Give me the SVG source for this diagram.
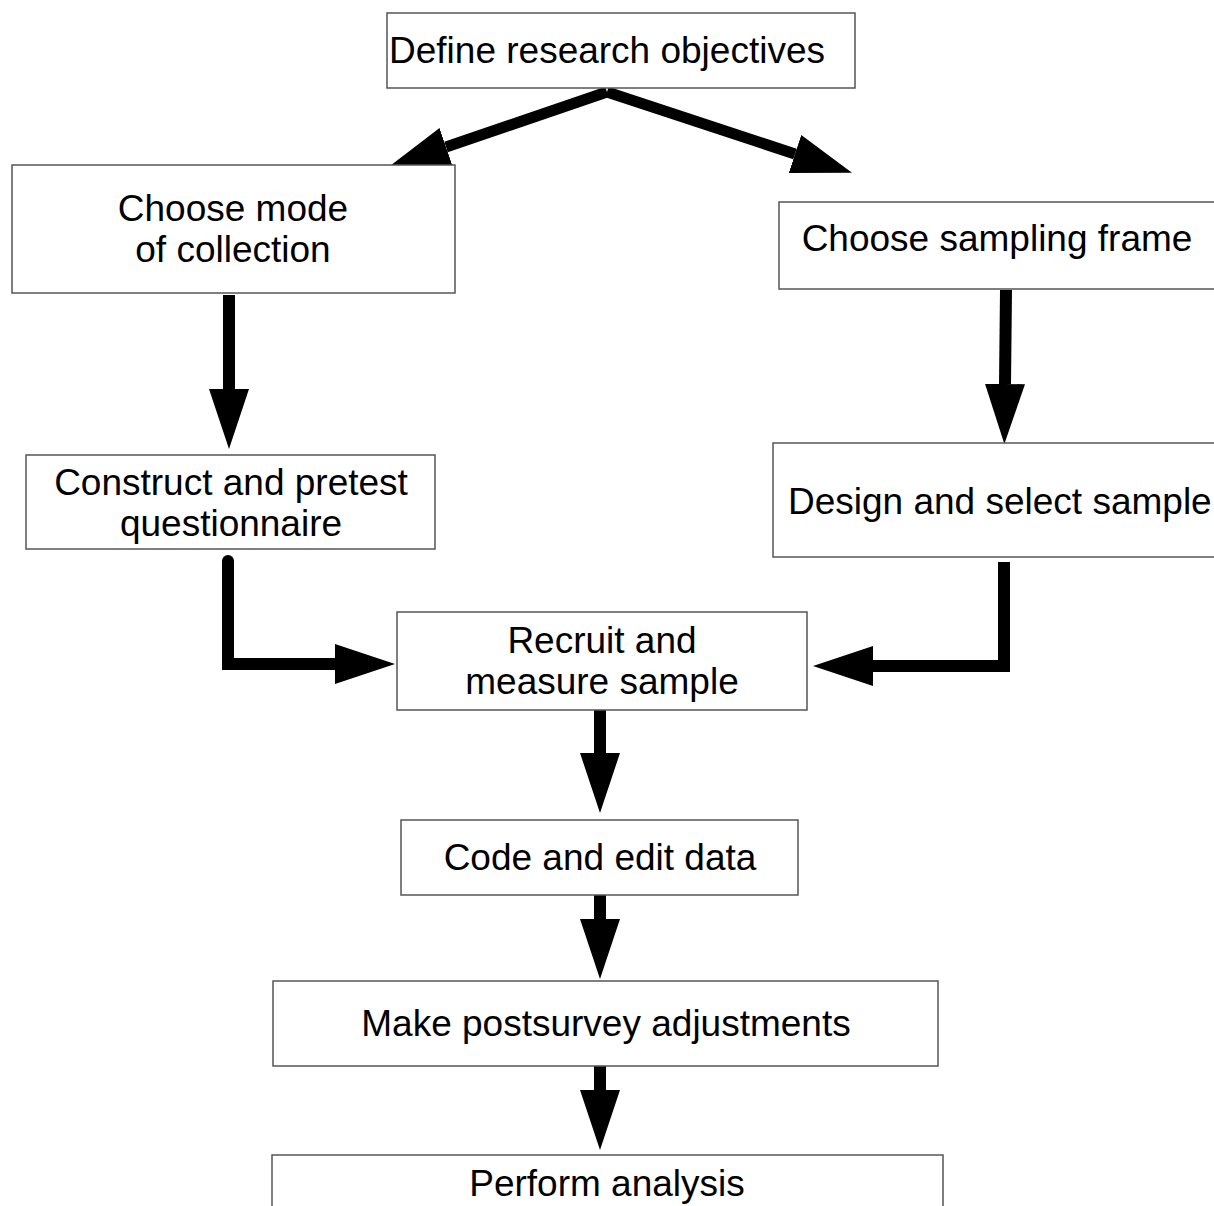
<svg xmlns="http://www.w3.org/2000/svg" width="1214" height="1206" viewBox="0 0 1214 1206">
<style>
.box{fill:#fff;stroke:#555;stroke-width:1.5}
.t{font-family:"Liberation Sans",Arial,sans-serif;font-size:37px;fill:#000;text-anchor:middle}
.ts{text-anchor:start}
.c{fill:none;stroke:#000;stroke-width:12;stroke-linejoin:miter;marker-end:url(#ah)}
</style>
<defs>
<marker id="ah" markerUnits="userSpaceOnUse" viewBox="0 0 60 40" markerWidth="60" markerHeight="40" refX="0" refY="20" orient="auto">
<path d="M0,0 L60,20 L0,40 Z" fill="#000"/>
</marker>
</defs>
<rect width="1214" height="1206" fill="#fff"/>
<g id="connectors">
<path class="c" style="stroke-width:11" d="M607,92 L446,147"/>
<path class="c" style="stroke-width:11" d="M607,92 L795,154"/>
<path class="c" d="M229,295 L229,389"/>
<path class="c" d="M1006,290 L1005,384"/>
<path class="c" d="M228,561 L228,664 L335,664"/>
<circle cx="228" cy="561" r="6" fill="#000"/>
<path class="c" d="M1004,562 L1004,666 L873,666"/>
<path class="c" d="M600,710 L600,753"/>
<path class="c" d="M600,895 L600,919"/>
<path class="c" d="M600,1066 L600,1090"/>
</g>
<g id="n1"><rect class="box" x="387" y="13" width="468" height="75"/><text class="t" x="607" y="63">Define research objectives</text></g>
<g id="n2"><rect class="box" x="12" y="165" width="443" height="128"/><text class="t" x="233" y="221">Choose mode</text><text class="t" x="233" y="262">of collection</text></g>
<g id="n3"><rect class="box" x="779" y="202" width="450" height="87"/><text class="t" x="997" y="251">Choose sampling frame</text></g>
<g id="n4"><rect class="box" x="26" y="455" width="409" height="94"/><text class="t" x="231" y="495">Construct and pretest</text><text class="t" x="231" y="536">questionnaire</text></g>
<g id="n5"><rect class="box" x="773" y="443" width="460" height="114"/><text class="t ts" x="788" y="514">Design and select sample</text></g>
<g id="n6"><rect class="box" x="397" y="612" width="410" height="98"/><text class="t" x="602" y="653">Recruit and</text><text class="t" x="602" y="694">measure sample</text></g>
<g id="n7"><rect class="box" x="401" y="820" width="397" height="75"/><text class="t" x="600" y="870">Code and edit data</text></g>
<g id="n8"><rect class="box" x="273" y="981" width="665" height="85"/><text class="t" x="606" y="1036">Make postsurvey adjustments</text></g>
<g id="n9"><rect class="box" x="272" y="1155" width="671" height="80"/><text class="t" x="607" y="1196">Perform analysis</text></g>
</svg>
